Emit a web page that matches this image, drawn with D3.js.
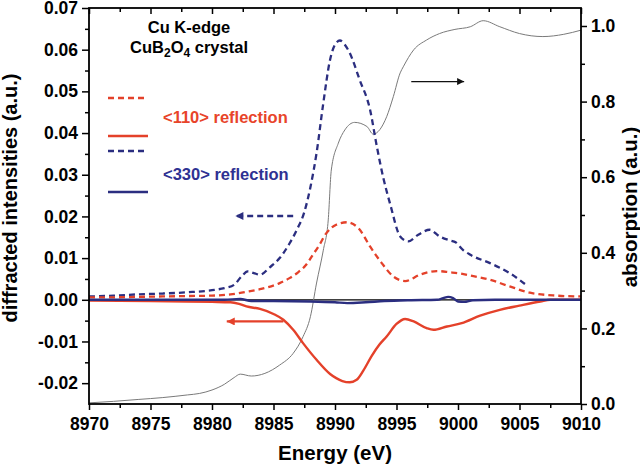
<!DOCTYPE html>
<html><head><meta charset="utf-8">
<script src="https://cdn.jsdelivr.net/npm/d3@7"></script>
<style>
body{margin:0;background:#fff;}
text{font-family:"Liberation Sans",Arial,sans-serif;font-weight:bold;}
</style></head>
<body><svg id="c" width="640" height="469"></svg>
<script>
// ---- data ----
const xTicks = [8970, 8975, 8980, 8985, 8990, 8995, 9000, 9005, 9010];
const leftTicks = [-0.02, -0.01, 0.00, 0.01, 0.02, 0.03, 0.04, 0.05, 0.06, 0.07];
const rightTicks = [0.0, 0.2, 0.4, 0.6, 0.8, 1.0];

const absE = [8970,8972,8974,8976,8978,8979,8980,8981,8981.8,8982.3,8983.2,8984.3,8985.5,8986.6,8987.4,8988.0,8988.5,8989.05,8989.45,8989.7,8990.27,8990.8,8991.6,8992.6,8993.1,8994.2,8994.74,8995.3,8995.55,8996.4,8997.45,8998.5,8999.75,9001,9002.05,9003.4,9005,9006.9,9008.6,9010];
const absV = [0.003,0.007,0.012,0.017,0.024,0.028,0.037,0.052,0.07,0.079,0.074,0.081,0.103,0.134,0.178,0.231,0.32,0.407,0.487,0.619,0.69,0.725,0.745,0.734,0.714,0.76,0.813,0.876,0.892,0.937,0.963,0.98,0.991,0.998,1.014,0.998,0.98,0.972,0.978,0.989];

const r330DashE = [8970,8972,8974,8976,8978,8980,8981,8981.8,8982.4,8982.9,8983.4,8983.9,8984.7,8985.5,8986.3,8986.9,8987.5,8988.0,8988.5,8989.05,8989.6,8990.0,8990.4,8990.8,8991.2,8992.0,8992.85,8993.4,8993.9,8994.5,8995.3,8995.96,8996.77,8997.7,8998.5,8999.4,8999.8,9000.4,9001,9002.6,9004.2,9005.7];
const r330DashV = [0.0008,0.001,0.0013,0.0015,0.0018,0.0023,0.0028,0.0036,0.0056,0.0068,0.0064,0.006,0.0078,0.0100,0.0135,0.0168,0.021,0.027,0.0352,0.0472,0.0576,0.0612,0.0622,0.0612,0.0592,0.0528,0.0456,0.0368,0.0296,0.0228,0.0152,0.014,0.0156,0.0168,0.0152,0.0142,0.0138,0.012,0.0108,0.0088,0.0064,0.0032];

const r110DashE = [8970,8972,8974,8976,8978,8980,8981.5,8983,8984,8985.5,8986.3,8987,8987.6,8988.2,8988.7,8989.3,8990.1,8990.95,8991.9,8992.85,8993.8,8994.74,8995.7,8996.9,8998.27,8999.35,9000.2,9001,9002.6,9004.2,9005.85,9008,9010];
const r110DashV = [0.0006,0.0006,0.0007,0.0008,0.0009,0.001,0.0013,0.002,0.0026,0.004,0.0052,0.0066,0.0082,0.0108,0.013,0.016,0.018,0.0186,0.0172,0.0128,0.0088,0.0056,0.0045,0.006,0.0069,0.0066,0.0063,0.0058,0.0048,0.0032,0.0017,0.001,0.0008];

const r110SolidE = [8970,8975,8978,8980,8981.5,8982.2,8982.8,8983.9,8985,8985.8,8986.6,8987.4,8988.5,8989.6,8990.1,8990.6,8991.2,8991.76,8992.3,8993.0,8993.6,8994.2,8995,8995.7,8996.4,8997.45,8998,8999.1,9000.3,9001.8,9003.4,9005,9006.7,9007.5,9010];
const r110SolidV = [-0.0002,-0.0003,-0.0004,-0.0005,-0.0006,-0.001,-0.0016,-0.0022,-0.0034,-0.0048,-0.0072,-0.0104,-0.0144,-0.0178,-0.0188,-0.0195,-0.0198,-0.0192,-0.0170,-0.0134,-0.0108,-0.0088,-0.0058,-0.0046,-0.0052,-0.0068,-0.0072,-0.0064,-0.0056,-0.0038,-0.0024,-0.0014,-0.0004,0,0];

const r330SolidE = [8970,8978,8981,8982.3,8983.2,8985,8988,8990,8991,8992.5,8994,8996,8998.3,8998.8,8999.2,8999.6,9000,9000.5,9001.2,9003,9010];
const r330SolidV = [0,0,0,0.0002,-0.0003,-0.0003,-0.0004,-0.0006,-0.0008,-0.0006,-0.0003,-0.0001,0,0.0004,0.0007,0.0004,-0.0004,-0.0005,-0.0001,0,0];

const zeroE = [8970, 9010];
const zeroV = [0, 0];

// arrows in data units [E0, E1, value]
const arrowBlue = [8986.6, 8981.9, 0.0201];
const arrowRed = [8985.8, 8981.2, -0.0052];
const arrowBlack = [8996.2, 9000.5, 0.853];

// ---- layout ----
const RED = "#e4412a", BLUE = "#2b2e80";
const svg = d3.select("#c");
const L = 89, R = 581, T = 8, B = 404;
const x = d3.scaleLinear().domain([8970, 9010]).range([L, R]);
const y = d3.scaleLinear().domain([-0.025, 0.07]).range([B, T]);
const y2 = d3.scaleLinear().domain([0, 1.0476]).range([B, T]);

const defs = svg.append("defs");
function marker(id, color, w, h) {
  defs.append("marker").attr("id", id).attr("viewBox", "0 0 10 10")
    .attr("refX", 10).attr("refY", 5).attr("markerWidth", w).attr("markerHeight", h)
    .attr("markerUnits", "userSpaceOnUse").attr("orient", "auto")
    .append("path").attr("d", "M0,0L10,5L0,10z").attr("fill", color);
}
marker("mb", BLUE, 13, 8); marker("mr", RED, 13, 8); marker("mk", "#111", 12, 7);

const clip = defs.append("clipPath").attr("id", "clp");
clip.append("rect").attr("x", L).attr("y", T).attr("width", R - L).attr("height", B - T);

const g = svg.append("g").attr("clip-path", "url(#clp)");
function series(E, V, ys, color, width, dash) {
  const pts = E.map((e, i) => [e, V[i]]);
  const ln = d3.line().x(d => x(d[0])).y(d => ys(d[1])).curve(d3.curveMonotoneX);
  g.append("path").datum(pts).attr("d", ln).attr("fill", "none")
    .attr("stroke", color).attr("stroke-width", width)
    .attr("stroke-dasharray", dash || null);
}
series(zeroE, zeroV, y, "#000", 1.3);
series(absE, absV, y2, "#7a7a7a", 1);
series(r330DashE, r330DashV, y, BLUE, 2.3, "6,4");
series(r110DashE, r110DashV, y, RED, 2.3, "6,4");
series(r110SolidE, r110SolidV, y, RED, 2.4);
series(r330SolidE, r330SolidV, y, BLUE, 2.4);

// arrows
function arrow(a, ys, color, m, w, dash) {
  svg.append("line").attr("x1", x(a[0])).attr("x2", x(a[1]))
    .attr("y1", ys(a[2])).attr("y2", ys(a[2]))
    .attr("stroke", color).attr("stroke-width", w)
    .attr("stroke-dasharray", dash || null)
    .attr("marker-end", "url(#" + m + ")");
}
arrow(arrowBlue, y, BLUE, "mb", 2.3, "6,4");
arrow(arrowRed, y, RED, "mr", 2.3);
arrow(arrowBlack, y2, "#111", "mk", 1.3);

// axes
const fmt2 = d => d.toFixed(2), fmt1 = d => d.toFixed(1);
function styleAxis(sel) {
  sel.select(".domain").remove();
  sel.selectAll("line").attr("stroke", "#000").attr("stroke-width", 1.5);
  sel.selectAll("text").attr("font-size", 17.5).attr("fill", "#000")
     .attr("font-family", "'Liberation Sans', Arial, sans-serif").attr("font-weight", "bold");
}
const xMinor = d3.range(8972.5, 9010, 5);
const lMinor = d3.range(-0.015, 0.07, 0.01);
const rMinor = [0.1, 0.3, 0.5, 0.7, 0.9];

svg.append("g").attr("transform", `translate(0,${B})`)
  .call(d3.axisBottom(x).tickValues(xTicks).tickFormat(d3.format("d")).tickSize(6).tickPadding(8)).call(styleAxis);
svg.append("g").attr("transform", `translate(0,${B})`)
  .call(d3.axisBottom(x).tickValues(xMinor).tickFormat("").tickSize(4)).call(styleAxis);
svg.append("g").attr("transform", `translate(0,${T})`)
  .call(d3.axisBottom(x).tickValues(xTicks).tickFormat("").tickSize(6)).call(styleAxis);
svg.append("g").attr("transform", `translate(0,${T})`)
  .call(d3.axisBottom(x).tickValues(xMinor).tickFormat("").tickSize(4)).call(styleAxis);
svg.append("g").attr("transform", `translate(${L},0)`)
  .call(d3.axisLeft(y).tickValues(leftTicks).tickFormat(fmt2).tickSize(7).tickPadding(4)).call(styleAxis);
svg.append("g").attr("transform", `translate(${L},0)`)
  .call(d3.axisLeft(y).tickValues(lMinor).tickFormat("").tickSize(4)).call(styleAxis);
svg.append("g").attr("transform", `translate(${R},0)`)
  .call(d3.axisRight(y2).tickValues(rightTicks).tickFormat(fmt1).tickSize(6).tickPadding(4)).call(styleAxis);
svg.append("g").attr("transform", `translate(${R},0)`)
  .call(d3.axisRight(y2).tickValues(rMinor).tickFormat("").tickSize(4)).call(styleAxis);

// frame
svg.append("rect").attr("x", L).attr("y", T).attr("width", R - L).attr("height", B - T)
  .attr("fill", "none").attr("stroke", "#000").attr("stroke-width", 1.8);

// titles
svg.append("text").attr("x", x(8990)).attr("y", 460).attr("text-anchor", "middle")
  .attr("font-size", 20.5).text("Energy (eV)");
svg.append("text").attr("transform", "translate(17,198) rotate(-90)").attr("text-anchor", "middle")
  .attr("font-size", 20).text("diffracted intensities (a.u.)");
svg.append("text").attr("transform", "translate(637,207) rotate(-90)").attr("text-anchor", "middle")
  .attr("font-size", 20.5).text("absorption (a.u.)");

// annotation
svg.append("text").attr("x", 189).attr("y", 33).attr("text-anchor", "middle")
  .attr("font-size", 16.5).text("Cu K-edge");
const t2 = svg.append("text").attr("x", 189).attr("y", 53).attr("text-anchor", "middle").attr("font-size", 16.5);
t2.append("tspan").text("CuB");
t2.append("tspan").attr("dy", 4).attr("font-size", 12).text("2");
t2.append("tspan").attr("dy", -4).text("O");
t2.append("tspan").attr("dy", 4).attr("font-size", 12).text("4");
t2.append("tspan").attr("dy", -4).text(" crystal");

// legend
const leg = [
  {y: 98, c: RED, d: "6,4"}, {y: 136, c: RED, d: null},
  {y: 151, c: BLUE, d: "6,4"}, {y: 192, c: BLUE, d: null}
];
leg.forEach(l => svg.append("line").attr("x1", 108).attr("x2", 148).attr("y1", l.y).attr("y2", l.y)
  .attr("stroke", l.c).attr("stroke-width", 2.3).attr("stroke-dasharray", l.d));
svg.append("text").attr("x", 163).attr("y", 123).attr("font-size", 16.5).attr("fill", "#e8442a").text("<110> reflection");
svg.append("text").attr("x", 163).attr("y", 180).attr("font-size", 16.5).attr("fill", "#2e3192").text("<330> reflection");
</script></body></html>
